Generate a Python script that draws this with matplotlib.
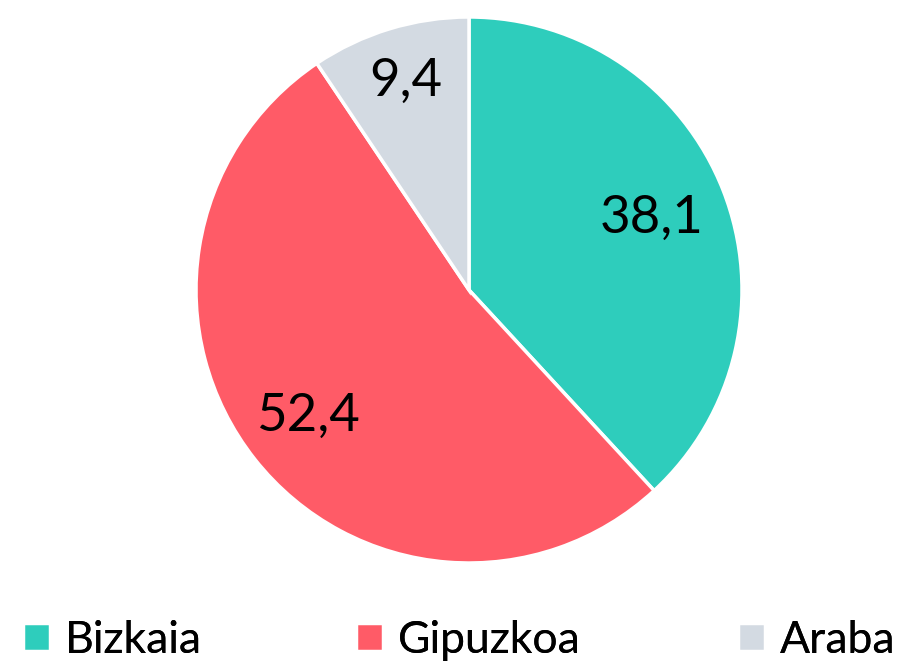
import numpy as np
import matplotlib.pyplot as plt

plt.rcParams['font.family'] = ['Lato', 'DejaVu Sans']

# -------------------------------------------------
# Data
# -------------------------------------------------
labels = ["Bizkaia", "Gipuzkoa", "Araba"]
values = [38.1, 52.4, 9.4]
value_text = ["38,1", "52,4", "9,4"]
colors = ["#2ECDBC", "#FF5B67", "#D3DAE2"]
label_radius = [0.72, 0.75, 0.80]
legend_x = [23 / 907, 356 / 907, 738 / 907]

# -------------------------------------------------
# Figure
# -------------------------------------------------
fig = plt.figure(figsize=(9.07, 6.64), dpi=100)
ax = fig.add_axes([196 / 907, 101 / 664, 546 / 907, 546 / 664])

wedges, _ = ax.pie(
    values,
    colors=colors,
    startangle=90,
    counterclock=False,
    radius=1.0,
    wedgeprops=dict(edgecolor="white", linewidth=2.5),
)
ax.set_xlim(-1, 1)
ax.set_ylim(-1, 1)
ax.set_aspect("equal")
ax.axis("off")

for w, txt, r in zip(wedges, value_text, label_radius):
    ang = np.deg2rad((w.theta1 + w.theta2) / 2)
    ax.text(r * np.cos(ang), r * np.sin(ang), txt,
            ha="center", va="center", fontsize=38, color="black")

# one legend per entry so each sits where the reference has it
for w, lab, x in zip(wedges, labels, legend_x):
    leg = fig.legend(
        [w], [lab],
        loc="center left", bbox_to_anchor=(x, 0.036),
        frameon=False, fontsize=32,
        handlelength=0.6, handleheight=0.6, handletextpad=0.35,
        borderpad=0, borderaxespad=0,
    )
    fig.add_artist(leg)

fig.savefig("out.png", dpi=100)
